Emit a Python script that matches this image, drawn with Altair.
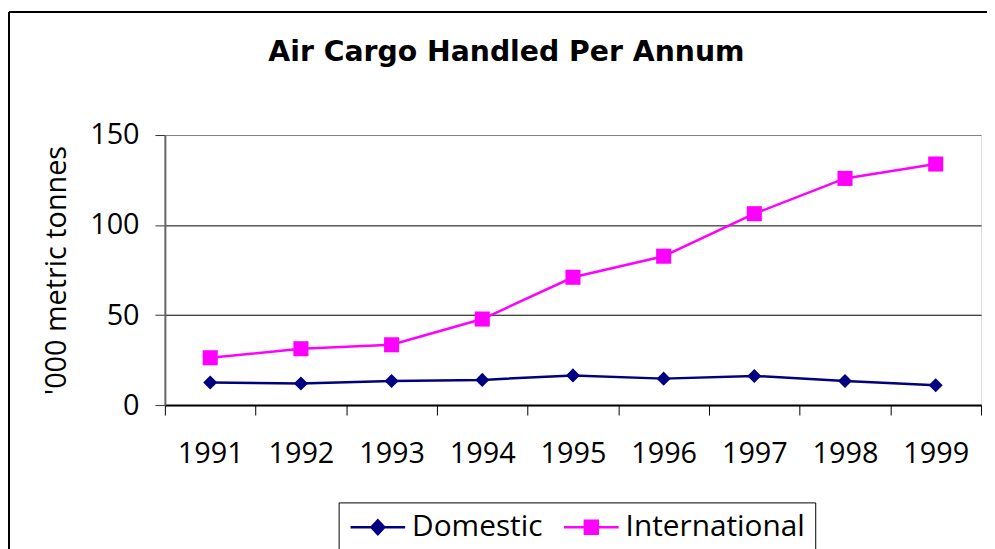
import altair as alt
import pandas as pd

years = ["1991", "1992", "1993", "1994", "1995", "1996", "1997", "1998", "1999"]
domestic = [12.5, 12.0, 13.4, 14.0, 16.5, 14.7, 16.2, 13.4, 11.0]
international = [26.3, 31.3, 33.5, 47.8, 71.0, 82.7, 106.3, 125.9, 133.9]
series = ["Domestic", "International"]
colors = ["#000080", "#FF00FF"]
shapes = ["diamond", "square"]
marker_sizes = [200, 230]
y_ticks = [0, 50, 100, 150]
title_text = "Air Cargo Handled Per Annum"

df = pd.DataFrame({
    "year": years * 2,
    "value": domestic + international,
    "series": [series[0]] * len(years) + [series[1]] * len(years),
})

FONT = "Open Sans"
W, H = 822, 272
PAD_L, PAD_T = 158, 126
TOTAL_W, TOTAL_H = 986, 541

# legend symbols: a line with the marker on it (units of 13px)
DPATH = "M-1,0H3.23M1.115,-0.54L1.615,0L1.115,0.54L0.615,0Z"
SPATH = "M-1,0H3.23M0.615,-0.5H1.615V0.5H0.615Z"
sym_expr = "datum.value === 'Domestic' ? '" + DPATH + "' : '" + SPATH + "'"
col_expr = "datum.value === 'Domestic' ? '" + colors[0] + "' : '" + colors[1] + "'"

x_enc = alt.X(
    "year:O", sort=years, bandPosition=0.5,
    scale=alt.Scale(type="band", paddingInner=0, paddingOuter=0),
    axis=alt.Axis(title=None, labelAngle=0, tickBand="extent", grid=False,
                  domainColor="#000000", domainWidth=2, tickColor="#000000",
                  tickSize=10, tickWidth=1, labelFont=FONT, labelFontSize=29,
                  labelColor="#000000", labelPadding=25),
)
y_enc = alt.Y(
    "value:Q", scale=alt.Scale(domain=[0, 150], nice=False, zero=True),
    axis=alt.Axis(values=y_ticks, title="'000 metric tonnes", grid=True,
                  gridColor={"condition": {"test": "datum.value === 150", "value": "#808080"},
                             "value": "#000000"},
                  gridWidth=1, domainColor="#666666", domainWidth=2,
                  tickColor="#333333", tickSize=10, tickWidth=1,
                  labelFont=FONT, labelFontSize=29, labelColor="#000000", labelPadding=16,
                  titleFont=FONT, titleFontSize=29, titleFontWeight="normal",
                  titleColor="#000000", titlePadding=18),
)
legend = alt.Legend(
    title=None, orient="none", legendX=175, legendY=370, direction="horizontal",
    columns=2, labelFont=FONT, labelFontSize=30, labelColor="#000000", labelLimit=400,
    symbolSize=676, symbolStrokeWidth=2.5, labelOffset=34, columnPadding=16,
    padding=10, fillColor="#FFFFFF", strokeColor="#000000",
    symbolType=alt.ExprRef(expr=sym_expr),
    symbolFillColor=alt.ExprRef(expr=col_expr),
    symbolStrokeColor=alt.ExprRef(expr=col_expr),
    symbolOpacity=1,
)
color_enc = alt.Color("series:N", scale=alt.Scale(domain=series, range=colors), legend=legend)

base = alt.Chart(df)
lines = base.mark_line(strokeWidth=2.5).encode(x=x_enc, y=y_enc, color=color_enc)
point_layers = [
    base.transform_filter(alt.datum.series == s)
    .mark_point(filled=True, opacity=1, shape=shp, size=sz)
    .encode(x=x_enc, y=y_enc, color=color_enc)
    for s, shp, sz in zip(series, shapes, marker_sizes)
]

frame_df = pd.DataFrame({"k": [0]})
left_border = alt.Chart(frame_df).mark_rule(color="#000000", strokeWidth=2).encode(
    x=alt.value(-PAD_L + 1), y=alt.value(-PAD_T + 2), y2=alt.value(TOTAL_H))
top_border = alt.Chart(frame_df).mark_rule(color="#000000", strokeWidth=2).encode(
    x=alt.value(-PAD_L + 1), x2=alt.value(TOTAL_W), y=alt.value(-PAD_T + 2))
title_mark = alt.Chart(frame_df).mark_text(
    text=title_text, font="DejaVu Sans", fontSize=28.5, fontWeight="bold",
    color="#000000", align="center", baseline="alphabetic",
).encode(x=alt.value(344), y=alt.value(-75))

chart = alt.layer(lines, *point_layers, left_border, top_border, title_mark).properties(
    width=W, height=H,
    autosize=alt.AutoSizeParams(type="none"),
    padding={"left": PAD_L, "top": PAD_T, "right": TOTAL_W - PAD_L - W, "bottom": TOTAL_H - PAD_T - H},
).configure_view(stroke="#808080", strokeWidth=2).configure(background="#FFFFFF")

chart.save("out.html", embed_options={"renderer": "svg", "actions": False})
